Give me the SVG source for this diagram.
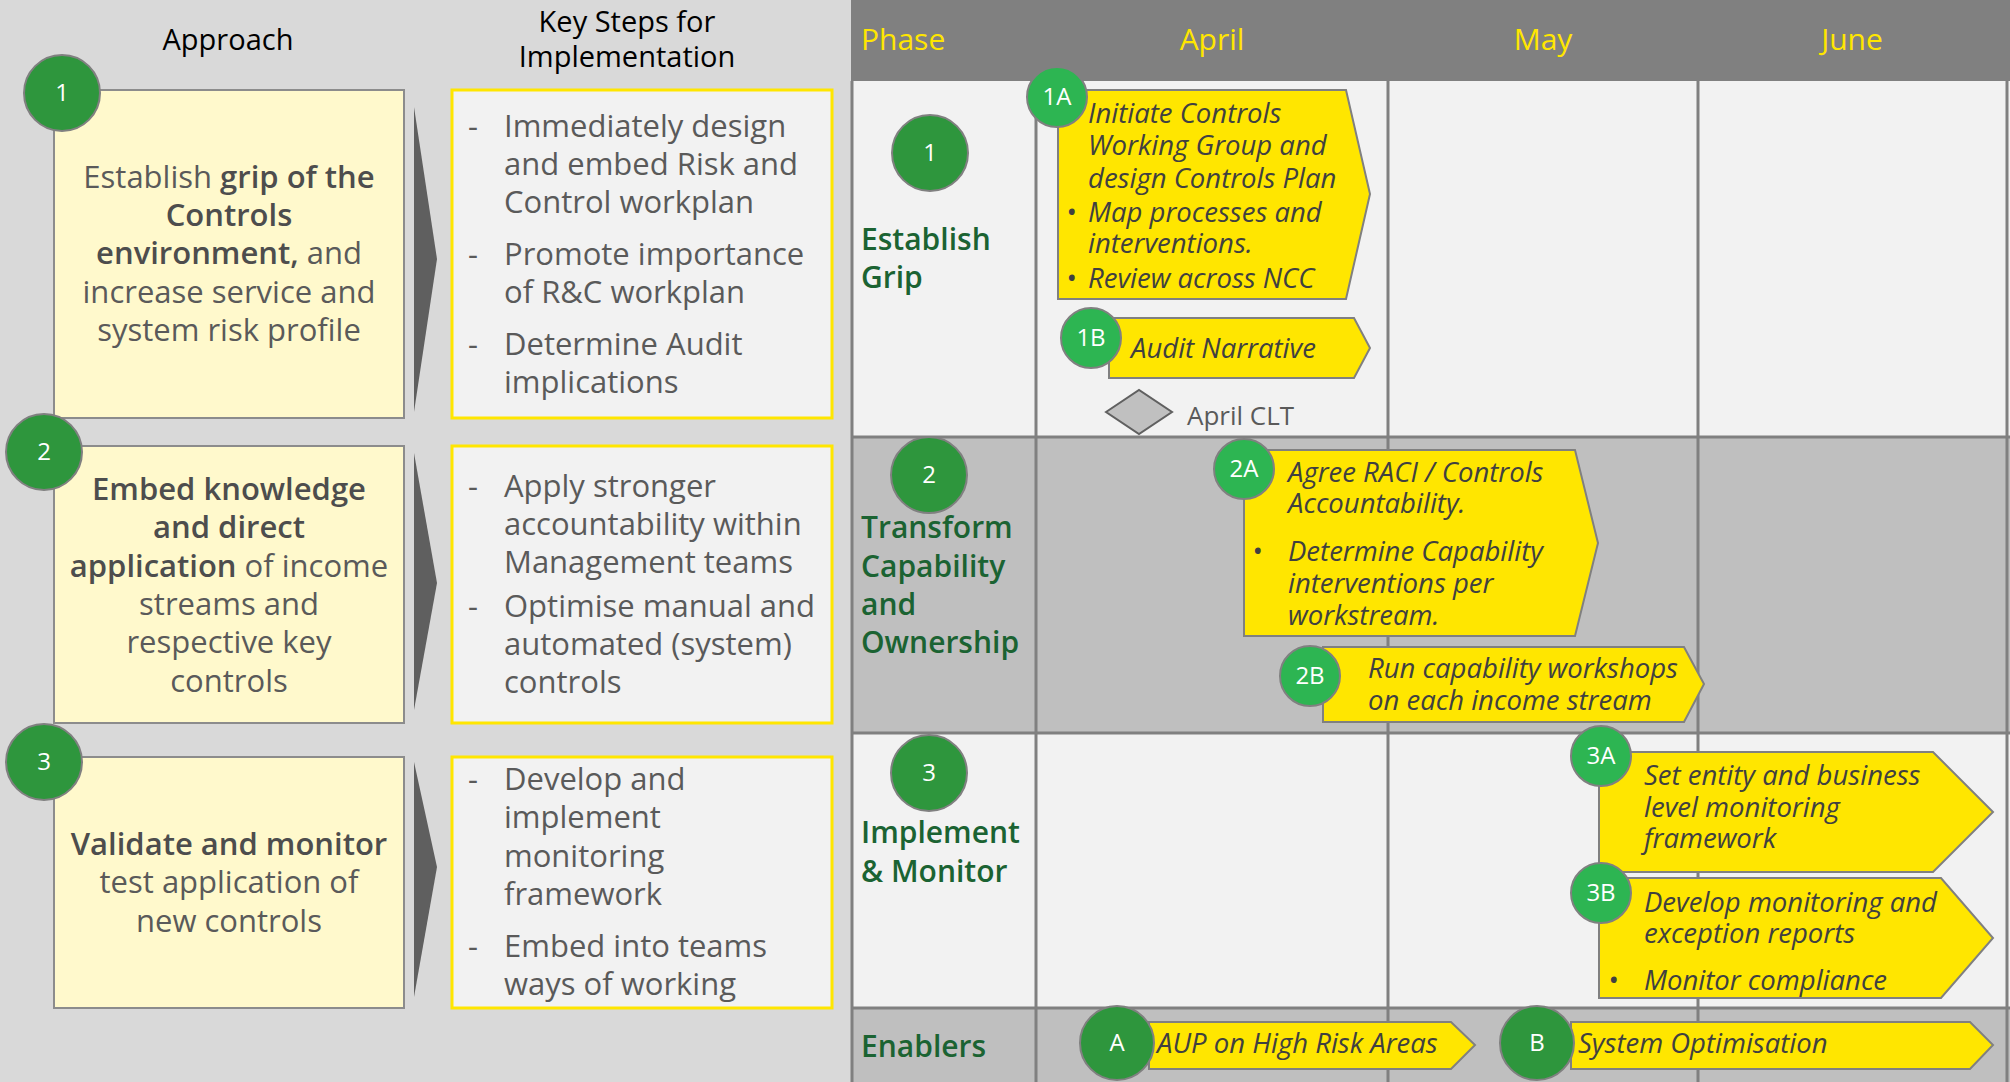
<svg xmlns="http://www.w3.org/2000/svg" width="2010" height="1082" viewBox="0 0 2010 1082">
  <defs>
    <style>
      text { font-family: "Open Sans", "Liberation Sans", sans-serif; }
      .hdr { font-size: 29px; fill: #000000; text-anchor: middle; }
      .appr { font-size: 31px; fill: #5a5a5a; text-anchor: middle; }
      .appr .b { font-weight: 600; fill: #4d4d4d; }
      .step { font-size: 31px; fill: #5a5a5a; }
      .month { font-size: 30px; fill: #ffe600; }
      .phase { font-size: 30px; font-weight: 600; fill: #1b6332; }
      .task { font-size: 27.5px; font-style: italic; fill: #404040; }
      .num { font-size: 24px; fill: #ffffff; text-anchor: middle; }
      .dk { fill: #2e963d; stroke: #808080; stroke-width: 2; }
      .lt { fill: #2db552; stroke: #808080; stroke-width: 2; }
      .appbox { fill: #fff9cc; stroke: #8c8c8c; stroke-width: 2; }
      .stepbox { fill: #f2f2f2; stroke: #ffe600; stroke-width: 3; }
      .chev { fill: #5f5f5f; }
      .bar { fill: #ffe600; stroke: #808080; stroke-width: 2; }
      .grid { stroke: #808080; stroke-width: 3; fill: none; }
    </style>
  </defs>

  <!-- left panel background -->
  <rect x="0" y="0" width="851" height="1082" fill="#d9d9d9"/>

  <!-- column headers -->
  <text class="hdr" x="228" y="50">Approach</text>
  <text class="hdr" x="627" y="32">Key Steps for</text>
  <text class="hdr" x="627" y="67">Implementation</text>

  <!-- approach 1 -->
  <g id="approach-1">
    <rect class="appbox" x="54" y="90" width="350" height="328"/>
    <circle class="dk" cx="62" cy="93" r="38"/>
    <text class="num" x="62" y="101">1</text>
    <text class="appr" x="229" y="188">Establish <tspan class="b">grip of the</tspan></text>
    <text class="appr" x="229" y="226"><tspan class="b">Controls</tspan></text>
    <text class="appr" x="229" y="264"><tspan class="b">environment,</tspan> and</text>
    <text class="appr" x="229" y="303">increase service and</text>
    <text class="appr" x="229" y="341">system risk profile</text>
  </g>
  <polygon class="chev" points="414,107 437,259 414,412"/>
  <g id="steps-1">
    <rect class="stepbox" x="452" y="90" width="380" height="328"/>
    <text class="step" x="468" y="137">-</text>
    <text class="step" x="504" y="137">Immediately design</text>
    <text class="step" x="504" y="175">and embed Risk and</text>
    <text class="step" x="504" y="213">Control workplan</text>
    <text class="step" x="468" y="265">-</text>
    <text class="step" x="504" y="265">Promote importance</text>
    <text class="step" x="504" y="303">of R&amp;C workplan</text>
    <text class="step" x="468" y="355">-</text>
    <text class="step" x="504" y="355">Determine Audit</text>
    <text class="step" x="504" y="393">implications</text>
  </g>

  <!-- approach 2 -->
  <g id="approach-2">
    <rect class="appbox" x="54" y="446" width="350" height="277"/>
    <circle class="dk" cx="44" cy="452" r="38"/>
    <text class="num" x="44" y="460">2</text>
    <text class="appr" x="229" y="500"><tspan class="b">Embed knowledge</tspan></text>
    <text class="appr" x="229" y="538"><tspan class="b">and direct</tspan></text>
    <text class="appr" x="229" y="577"><tspan class="b">application</tspan> of income</text>
    <text class="appr" x="229" y="615">streams and</text>
    <text class="appr" x="229" y="653">respective key</text>
    <text class="appr" x="229" y="692">controls</text>
  </g>
  <polygon class="chev" points="414,453 437,583 414,710"/>
  <g id="steps-2">
    <rect class="stepbox" x="452" y="446" width="380" height="277"/>
    <text class="step" x="468" y="497">-</text>
    <text class="step" x="504" y="497">Apply stronger</text>
    <text class="step" x="504" y="535">accountability within</text>
    <text class="step" x="504" y="573">Management teams</text>
    <text class="step" x="468" y="617">-</text>
    <text class="step" x="504" y="617">Optimise manual and</text>
    <text class="step" x="504" y="655">automated (system)</text>
    <text class="step" x="504" y="693">controls</text>
  </g>

  <!-- approach 3 -->
  <g id="approach-3">
    <rect class="appbox" x="54" y="757" width="350" height="251"/>
    <circle class="dk" cx="44" cy="762" r="38"/>
    <text class="num" x="44" y="770">3</text>
    <text class="appr" x="229" y="855"><tspan class="b">Validate and monitor</tspan></text>
    <text class="appr" x="229" y="893">test application of</text>
    <text class="appr" x="229" y="932">new controls</text>
  </g>
  <polygon class="chev" points="414,762 437,867 414,997"/>
  <g id="steps-3">
    <rect class="stepbox" x="452" y="757" width="380" height="251"/>
    <text class="step" x="468" y="790">-</text>
    <text class="step" x="504" y="790">Develop and</text>
    <text class="step" x="504" y="828">implement</text>
    <text class="step" x="504" y="867">monitoring</text>
    <text class="step" x="504" y="905">framework</text>
    <text class="step" x="468" y="957">-</text>
    <text class="step" x="504" y="957">Embed into teams</text>
    <text class="step" x="504" y="995">ways of working</text>
  </g>

  <!-- timeline grid -->
  <g id="timeline-grid">
    <rect x="851" y="0" width="1159" height="81" fill="#808080"/>
    <rect x="851" y="81" width="1159" height="356" fill="#f2f2f2"/>
    <rect x="851" y="437" width="1159" height="296" fill="#bfbfbf"/>
    <rect x="851" y="733" width="1159" height="275" fill="#f2f2f2"/>
    <rect x="851" y="1008" width="1159" height="74" fill="#bfbfbf"/>
    <path class="grid" d="M852,81 V1082 M1036,81 V1082 M1388,81 V1082 M1698,81 V1082 M2007,81 V1082 M851,437 H2010 M851,733 H2010 M851,1008 H2010"/>
    <text class="month" x="861" y="50">Phase</text>
    <text class="month" x="1212" y="50" text-anchor="middle">April</text>
    <text class="month" x="1543" y="50" text-anchor="middle">May</text>
    <text class="month" x="1852" y="50" text-anchor="middle">June</text>
  </g>

  <!-- phases -->
  <g id="phase-1">
    <circle class="dk" cx="930" cy="153" r="38"/>
    <text class="num" x="930" y="161">1</text>
    <text class="phase" x="861" y="250">Establish</text>
    <text class="phase" x="861" y="288">Grip</text>
  </g>
  <g id="phase-2">
    <circle class="dk" cx="929" cy="475" r="38"/>
    <text class="num" x="929" y="483">2</text>
    <text class="phase" x="861" y="538">Transform</text>
    <text class="phase" x="861" y="577">Capability</text>
    <text class="phase" x="861" y="615">and</text>
    <text class="phase" x="861" y="653">Ownership</text>
  </g>
  <g id="phase-3">
    <circle class="dk" cx="929" cy="773" r="38"/>
    <text class="num" x="929" y="781">3</text>
    <text class="phase" x="861" y="843">Implement</text>
    <text class="phase" x="861" y="882">&amp; Monitor</text>
  </g>
  <g id="phase-enablers">
    <text class="phase" x="861" y="1057">Enablers</text>
  </g>

  <!-- activities -->
  <g id="task-1A">
    <polygon class="bar" points="1058,90 1346,90 1370,194 1346,299 1058,299"/>
    <circle class="lt" cx="1057" cy="97" r="30"/>
    <text class="num" x="1057" y="105">1A</text>
    <text class="task" x="1088" y="123">Initiate Controls</text>
    <text class="task" x="1088" y="155">Working Group and</text>
    <text class="task" x="1088" y="188">design Controls Plan</text>
    <text class="task" x="1066" y="222">•</text>
    <text class="task" x="1088" y="222">Map processes and</text>
    <text class="task" x="1088" y="253">interventions.</text>
    <text class="task" x="1066" y="288">•</text>
    <text class="task" x="1088" y="288">Review across NCC</text>
  </g>
  <g id="task-1B">
    <polygon class="bar" points="1109,318 1354,318 1370,348 1354,378 1109,378"/>
    <circle class="lt" cx="1091" cy="338" r="30"/>
    <text class="num" x="1091" y="346">1B</text>
    <text class="task" x="1131" y="358">Audit Narrative</text>
  </g>
  <g id="milestone-april-clt">
    <polygon points="1106,412 1139,390 1172,412 1139,434" fill="#c0c0c0" stroke="#606060" stroke-width="2"/>
    <text x="1187" y="425" font-size="26" fill="#5a5a5a">April CLT</text>
  </g>
  <g id="task-2A">
    <polygon class="bar" points="1244,450 1575,450 1598,543 1575,636 1244,636"/>
    <circle class="lt" cx="1244" cy="469" r="30"/>
    <text class="num" x="1244" y="477">2A</text>
    <text class="task" x="1288" y="482">Agree RACI / Controls</text>
    <text class="task" x="1288" y="513">Accountability.</text>
    <text class="task" x="1252" y="561">•</text>
    <text class="task" x="1288" y="561">Determine Capability</text>
    <text class="task" x="1288" y="593">interventions per</text>
    <text class="task" x="1288" y="625">workstream.</text>
  </g>
  <g id="task-2B">
    <polygon class="bar" points="1323,647 1684,647 1704,684 1684,722 1323,722"/>
    <circle class="lt" cx="1310" cy="676" r="30"/>
    <text class="num" x="1310" y="684">2B</text>
    <text class="task" x="1368" y="678">Run capability workshops</text>
    <text class="task" x="1368" y="710">on each income stream</text>
  </g>
  <g id="task-3A">
    <polygon class="bar" points="1599,752 1933,752 1993,812 1933,872 1599,872"/>
    <circle class="lt" cx="1601" cy="756" r="30"/>
    <text class="num" x="1601" y="764">3A</text>
    <text class="task" x="1644" y="785">Set entity and business</text>
    <text class="task" x="1644" y="817">level monitoring</text>
    <text class="task" x="1644" y="848">framework</text>
  </g>
  <g id="task-3B">
    <polygon class="bar" points="1599,878 1941,878 1993,938 1941,998 1599,998"/>
    <circle class="lt" cx="1601" cy="893" r="30"/>
    <text class="num" x="1601" y="901">3B</text>
    <text class="task" x="1644" y="912">Develop monitoring and</text>
    <text class="task" x="1644" y="943">exception reports</text>
    <text class="task" x="1608" y="990">•</text>
    <text class="task" x="1644" y="990">Monitor compliance</text>
  </g>
  <g id="enabler-A">
    <polygon class="bar" points="1149,1022 1451,1022 1475,1045 1451,1069 1149,1069"/>
    <circle class="dk" cx="1117" cy="1043" r="37"/>
    <text class="num" x="1117" y="1051">A</text>
    <text class="task" x="1157" y="1053">AUP on High Risk Areas</text>
  </g>
  <g id="enabler-B">
    <polygon class="bar" points="1571,1022 1970,1022 1993,1045 1970,1069 1571,1069"/>
    <circle class="dk" cx="1537" cy="1043" r="37"/>
    <text class="num" x="1537" y="1051">B</text>
    <text class="task" x="1578" y="1053">System Optimisation</text>
  </g>
</svg>
